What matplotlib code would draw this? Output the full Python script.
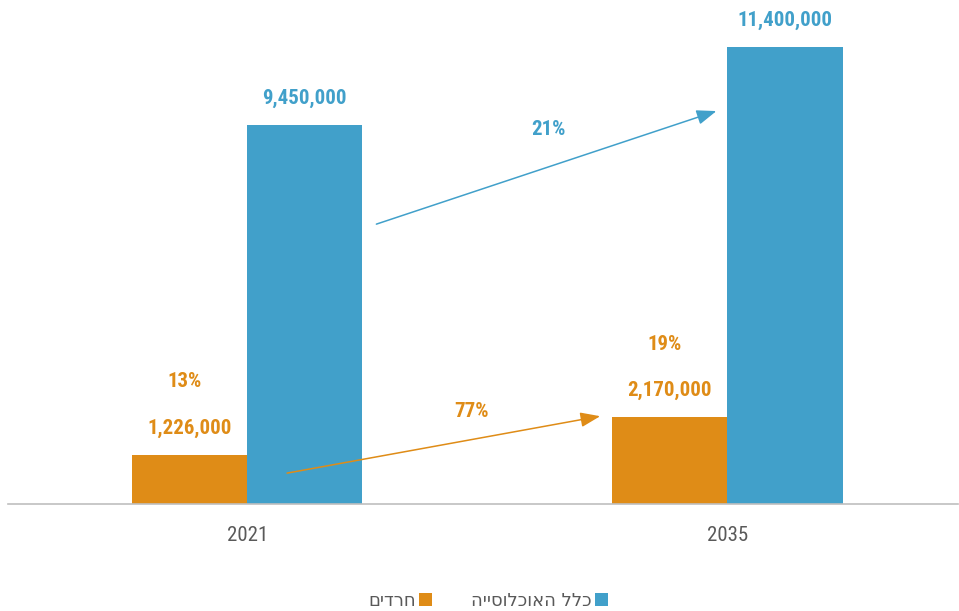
import matplotlib
matplotlib.use("Agg")
import matplotlib.pyplot as plt
import numpy as np
import logging
logging.getLogger("matplotlib.font_manager").setLevel(logging.ERROR)

years = ["2021", "2035"]
total_pop = [9450000, 11400000]
haredi_pop = [1226000, 2170000]
haredi_share = ["13%", "19%"]
growth_total = "21%"
growth_haredi = "77%"
series_names = ["כלל האוכלוסייה", "חרדים"]

BLUE = "#41A0CA"
ORANGE = "#DF8C17"
FAM = ["Roboto Condensed", "Noto Sans", "DejaVu Sans"]


def rtl(s):
    # matplotlib lays glyphs out left-to-right; reverse for right-to-left display
    return s[::-1]


fig = plt.figure(figsize=(9.59, 6.11), dpi=100)
ax = fig.add_axes([8/959, 1 - 504/611, 950/959, 504/611])

x = np.arange(len(years))
w = 0.24
b_h = ax.bar(x - w/2, haredi_pop, w, color=ORANGE, label=rtl(series_names[1]))
b_t = ax.bar(x + w/2, total_pop, w, color=BLUE, label=rtl(series_names[0]))

ax.set_xlim(-0.498, 1.48)
ax.set_ylim(0, 12.57e6)

fkw = dict(family=FAM, stretch="condensed", weight="bold", fontsize=15)
off = 0.66e6
for xi, v in zip(x, haredi_pop):
    ax.text(xi - w/2, v + off, f"{v:,}", color=ORANGE, ha="center", va="center", **fkw)
for xi, v in zip(x, total_pop):
    ax.text(xi + w/2, v + off, f"{v:,}", color=BLUE, ha="center", va="center", **fkw)
for xi, v, s in zip(x, haredi_pop, haredi_share):
    ax.text(xi - w/2 - 0.01, v + 1.82e6, s, color=ORANGE, ha="center", va="center", **fkw)

# growth arrows
ap = dict(arrowstyle="-|>,head_length=1.2,head_width=0.45", lw=1.1, shrinkA=0, shrinkB=0)
ax.annotate("", xy=(x[1] - 0.023, 9.80e6), xytext=(x[0] + 0.269, 6.98e6),
            arrowprops=dict(color=BLUE, **ap))
ax.annotate("", xy=(x[1] - 0.265, 2.19e6), xytext=(x[0] + 0.083, 0.77e6),
            arrowprops=dict(color=ORANGE, **ap))
ax.text(0.627, 9.35e6, growth_total, color=BLUE, ha="center", va="center", **fkw)
ax.text(0.467, 2.31e6, growth_haredi, color=ORANGE, ha="center", va="center", **fkw)

for s in ["top", "right", "left"]:
    ax.spines[s].set_visible(False)
ax.spines["bottom"].set_color("#BFBFBF")
ax.spines["bottom"].set_linewidth(1.2)
ax.set_yticks([])
ax.set_xticks(x)
ax.set_xticklabels(years, family=FAM, stretch="condensed", fontsize=15, color="#595959")
ax.tick_params(axis="x", length=0, pad=16)

leg = fig.legend(handles=[b_h, b_t], loc="center", bbox_to_anchor=(488/959, 1 - 601/611), ncol=2,
                 frameon=False, markerfirst=False, handlelength=0.7, handleheight=0.7,
                 handletextpad=0.2, columnspacing=2.15,
                 prop=dict(family="DejaVu Sans", size=13))
for t in leg.get_texts():
    t.set_color("#595959")

fig.savefig("out.png", dpi=100)
